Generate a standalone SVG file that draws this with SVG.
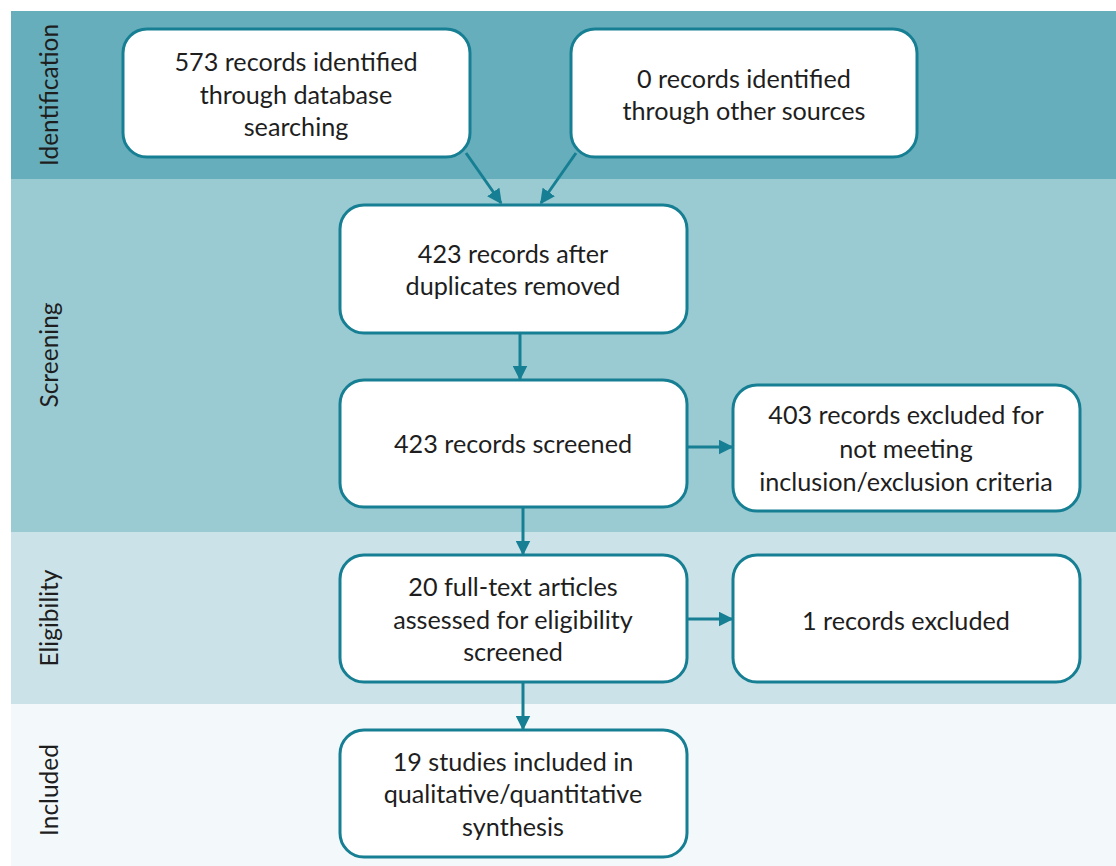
<svg xmlns="http://www.w3.org/2000/svg" width="1116" height="866" viewBox="0 0 1116 866">
  <defs>
    <marker id="arrow" viewBox="0 0 10 10" refX="9" refY="5" markerWidth="5" markerHeight="5" markerUnits="strokeWidth" orient="auto">
      <path d="M0,0 L10,5 L0,10 z" fill="#177f93"/>
    </marker>
    <style>
      .box { fill: #ffffff; stroke: #177f93; stroke-width: 3; }
      .txt { font-family: Lato, "Liberation Sans", sans-serif; font-size: 25.2px; fill: #1e1e1e; text-anchor: middle; }
      .lane { font-family: Lato, "Liberation Sans", sans-serif; font-size: 24.5px; fill: #1e1e1e; text-anchor: middle; }
      .edge { stroke: #177f93; stroke-width: 3; fill: none; marker-end: url(#arrow); }
    </style>
  </defs>

  <rect width="1116" height="866" fill="#ffffff"/>

  <!-- phase bands -->
  <g id="bands">
    <rect x="11" y="11" width="1105" height="168" fill="#66aebb"/>
    <rect x="11" y="179" width="1105" height="353" fill="#9acbd3"/>
    <rect x="11" y="532" width="1105" height="172" fill="#cbe2e8"/>
    <rect x="11" y="704" width="1105" height="162" fill="#f3f9fa"/>
    <text class="lane" transform="translate(58,95) rotate(-90)">Identification</text>
    <text class="lane" transform="translate(58,355) rotate(-90)">Screening</text>
    <text class="lane" transform="translate(58,618) rotate(-90)">Eligibility</text>
    <text class="lane" transform="translate(58,790) rotate(-90)">Included</text>
  </g>

  <!-- connectors -->
  <g id="connectors">
    <line class="edge" x1="466" y1="153" x2="501" y2="203"/>
    <line class="edge" x1="576" y1="153" x2="541" y2="203"/>
    <line class="edge" x1="520" y1="333" x2="520" y2="379"/>
    <line class="edge" x1="687" y1="447" x2="732" y2="447"/>
    <line class="edge" x1="523" y1="508" x2="523" y2="554"/>
    <line class="edge" x1="687" y1="619" x2="732" y2="619"/>
    <line class="edge" x1="523" y1="683" x2="523" y2="729"/>
  </g>

  <g id="n1">
    <rect class="box" x="123" y="29" width="347" height="128" rx="24"/>
    <text class="txt" x="296" y="71">573 records identified</text>
    <text class="txt" x="296" y="104">through database</text>
    <text class="txt" x="296" y="136">searching</text>
  </g>
  <g id="n2">
    <rect class="box" x="571" y="29" width="346" height="128" rx="24"/>
    <text class="txt" x="744" y="88">0 records identified</text>
    <text class="txt" x="744" y="120">through other sources</text>
  </g>
  <g id="n3">
    <rect class="box" x="340" y="205" width="347" height="128" rx="24"/>
    <text class="txt" x="513" y="263">423 records after</text>
    <text class="txt" x="513" y="295">duplicates removed</text>
  </g>
  <g id="n4">
    <rect class="box" x="340" y="380" width="347" height="127" rx="24"/>
    <text class="txt" x="513" y="453">423 records screened</text>
  </g>
  <g id="n5">
    <rect class="box" x="733" y="385" width="347" height="126" rx="24"/>
    <text class="txt" x="906" y="424">403 records excluded for</text>
    <text class="txt" x="906" y="458">not meeting</text>
    <text class="txt" x="906" y="491">inclusion/exclusion criteria</text>
  </g>
  <g id="n6">
    <rect class="box" x="340" y="555" width="347" height="127" rx="24"/>
    <text class="txt" x="513" y="596">20 full-text articles</text>
    <text class="txt" x="513" y="629">assessed for eligibility</text>
    <text class="txt" x="513" y="661">screened</text>
  </g>
  <g id="n7">
    <rect class="box" x="733" y="555" width="347" height="127" rx="24"/>
    <text class="txt" x="906" y="630">1 records excluded</text>
  </g>
  <g id="n8">
    <rect class="box" x="340" y="730" width="347" height="127" rx="24"/>
    <text class="txt" x="513" y="771">19 studies included in</text>
    <text class="txt" x="513" y="803">qualitative/quantitative</text>
    <text class="txt" x="513" y="836">synthesis</text>
  </g>
</svg>
